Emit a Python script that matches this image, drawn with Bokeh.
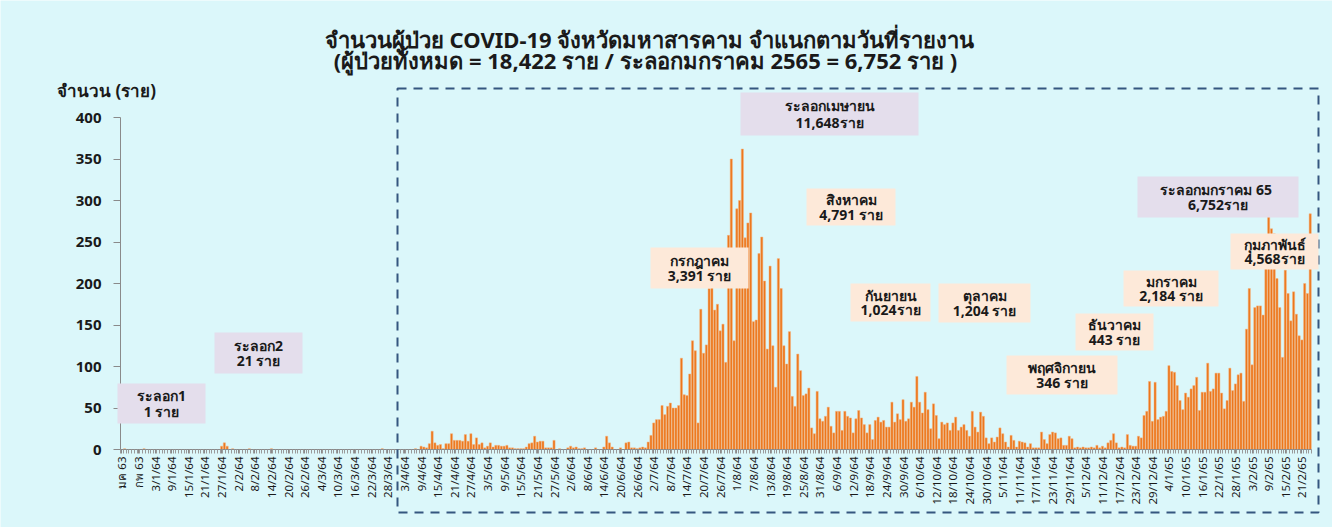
import math
from bokeh.plotting import figure
from bokeh.models import ColumnDataSource, FixedTicker, BoxAnnotation, Label, Range1d
from bokeh.embed import file_html
from bokeh.resources import INLINE

# ---------------- data ----------------
tick_labels = [
    "มค 63", "กพ 63", "3/1/64", "9/1/64", "15/1/64", "21/1/64", "27/1/64", "2/2/64",
    "8/2/64", "14/2/64", "20/2/64", "26/2/64", "4/3/64", "10/3/64", "16/3/64", "22/3/64",
    "28/3/64", "3/4/64", "9/4/64", "15/4/64", "21/4/64", "27/4/64", "3/5/64", "9/5/64",
    "15/5/64", "21/5/64", "27/5/64", "2/6/64", "8/6/64", "14/6/64", "20/6/64", "26/6/64",
    "2/7/64", "8/7/64", "14/7/64", "20/7/64", "26/7/64", "1/8/64", "7/8/64", "13/8/64",
    "19/8/64", "25/8/64", "31/8/64", "6/9/64", "12/9/64", "18/9/64", "24/9/64", "30/9/64",
    "6/10/64", "12/10/64", "18/10/64", "24/10/64", "30/10/64", "5/11/64", "11/11/64",
    "17/11/64", "23/11/64", "29/11/64", "5/12/64", "11/12/64", "17/12/64", "23/12/64",
    "29/12/64", "4/1/65", "10/1/65", "16/1/65", "22/1/65", "28/1/65", "3/2/65", "9/2/65",
    "15/2/65", "21/2/65",
]

wave1_2 = [0, 1, 0, 0, 0, 0, 0, 0, 1, 0,
           0, 0, 0, 0, 0, 0, 0, 0, 0, 0,
           0, 0, 0, 0, 0, 0, 0, 0, 0, 0,
           0, 0, 0, 0, 0, 0, 4, 8, 4, 0,
           1, 0, 0, 0, 0, 0, 1, 0, 0, 0,
           0, 0, 0, 0, 1, 0, 0, 0, 0, 0,
           0, 0, 0, 0, 0, 0, 0, 0, 0, 0,
           0, 0, 0, 0, 0, 0, 0, 0, 0, 0,
           0, 0, 0, 0, 0, 0, 0, 0, 0, 0,
           0, 0, 0, 0, 1, 0, 0, 0, 0, 0]
apr64 = [0, 0, 0, 0, 0, 0, 1, 0, 4, 3, 2, 7, 22, 8, 5, 6, 1, 7, 7, 19,
         11, 11, 11, 10, 18, 10, 19, 6, 14, 6]
may64 = [8, 2, 4, 8, 3, 5, 5, 4, 4, 5, 2, 2, 1, 1, 1, 1, 3, 7, 8, 16,
         9, 10, 10, 2, 2, 2, 11, 0, 1, 0, 0]
jun64 = [2, 4, 2, 3, 1, 1, 2, 0, 0, 0, 2, 0, 0, 3, 16, 8, 3, 0, 0, 2,
         0, 8, 9, 2, 2, 1, 2, 3, 2, 9]
jul64 = [17, 32, 36, 36, 53, 42, 52, 56, 50, 50, 53, 110, 66, 65, 91, 131, 119, 32, 169, 116,
         126, 194, 215, 168, 175, 143, 151, 105, 258, 350, 131]
aug64 = [290, 300, 362, 255, 273, 285, 154, 156, 236, 256, 203, 121, 221, 125, 75, 230, 194, 125, 103, 142,
         64, 52, 115, 95, 65, 67, 74, 26, 19, 70, 37]
sep64 = [34, 40, 51, 28, 20, 46, 46, 23, 46, 40, 38, 20, 37, 47, 38, 30, 20, 30, 12, 35,
         39, 33, 35, 27, 27, 57, 33, 43, 36, 60]
oct64 = [34, 37, 57, 51, 88, 57, 44, 69, 48, 25, 55, 41, 13, 33, 30, 32, 23, 32, 39, 23,
         27, 30, 23, 16, 46, 27, 21, 45, 40, 14, 7]
nov64 = [14, 9, 15, 26, 19, 9, 3, 17, 11, 3, 10, 9, 8, 3, 7, 2, 2, 2, 21, 12,
         7, 18, 21, 20, 13, 14, 5, 5, 16, 13]
dec64 = [2, 3, 2, 3, 2, 2, 3, 2, 5, 2, 4, 2, 8, 11, 19, 8, 2, 3, 2, 18,
         5, 4, 4, 16, 14, 41, 46, 82, 34, 81, 36]
jan65 = [39, 40, 46, 101, 94, 93, 77, 59, 48, 68, 63, 73, 77, 87, 47, 69, 69, 104, 70, 73,
         92, 92, 68, 49, 59, 98, 71, 79, 90, 92, 58]
feb65 = [145, 194, 102, 171, 173, 173, 162, 230, 280, 266, 260, 206, 171, 111, 216, 188, 155, 190, 163, 137,
         132, 200, 188, 284]

cases = wave1_2 + apr64 + may64 + jun64 + jul64 + aug64 + sep64 + oct64 + nov64 + dec64 + jan65 + feb65
n = len(cases)
idx = list(range(n))

notes = [
    ("ระลอก1", "1 ราย", "wave"),
    ("ระลอก2", "21 ราย", "wave"),
    ("ระลอกเมษายน", "11,648ราย", "wave"),
    ("กรกฎาคม", "3,391 ราย", "month"),
    ("สิงหาคม", "4,791 ราย", "month"),
    ("กันยายน", "1,024ราย", "month"),
    ("ตุลาคม", "1,204 ราย", "month"),
    ("พฤศจิกายน", "346 ราย", "month"),
    ("ธันวาคม", "443 ราย", "month"),
    ("มกราคม", "2,184 ราย", "month"),
    ("ระลอกมกราคม  65", "6,752ราย", "wave"),
    ("กุมภาพันธ์", "4,568ราย", "month"),
]
# box placement in page pixels: left, right, top, bottom
note_boxes = [
    (117, 205, 383, 423),
    (214, 302, 332, 373),
    (740, 918, 92, 135),
    (650, 748, 247, 288),
    (806, 895, 188, 225),
    (850, 930, 283, 321),
    (938, 1030, 283, 322),
    (1006, 1117, 355, 394),
    (1075, 1153, 313, 350),
    (1123, 1218, 270, 306),
    (1137, 1298, 176, 217),
    (1230, 1318, 233, 269),
]

# ---------------- layout ----------------
BG = "#DBF7FA"
W, H = 1332, 527
PX, PY = 2.77, 0.83          # pixels per category / per case
X0, Y0 = 120, 449            # page position of the category axis start and of zero


def X(px):
    return (px - X0) / PX - 0.5


def Y(py):
    return (Y0 - py) / PY


FONT = "Noto Sans"

p = figure(width=W, height=H,
           x_range=Range1d(X(0), X(W)), y_range=Range1d(Y(H), Y(0)),
           output_backend="svg", toolbar_location=None,
           min_border=0, min_border_left=0, min_border_right=0,
           min_border_top=0, min_border_bottom=0)
p.title.visible = False
p.background_fill_color = BG
p.border_fill_color = BG
p.outline_line_color = None
p.xgrid.visible = False
p.ygrid.visible = False

src = ColumnDataSource(dict(x=idx, cases=cases))
p.vbar(x="x", top="cases", width=0.78, source=src,
       fill_color="#EC761B", line_color="#F6B27C", line_width=0.5)

# y axis (placed at the left edge of the categories)
p.yaxis.fixed_location = -0.5
p.yaxis.bounds = (0, 400)
p.yaxis.ticker = FixedTicker(ticks=list(range(0, 401, 50)))
p.yaxis.axis_line_color = "#8A8A8A"
p.yaxis.major_tick_line_color = "#8A8A8A"
p.yaxis.major_tick_out = 7
p.yaxis.major_tick_in = 0
p.yaxis.minor_tick_out = 0
p.yaxis.minor_tick_in = 0
p.yaxis.major_label_standoff = 12
p.yaxis.major_label_text_font = FONT
p.yaxis.major_label_text_font_size = "15px"
p.yaxis.major_label_text_font_style = "bold"
p.yaxis.major_label_text_color = "#1a1a1a"

# x axis (at zero)
p.xaxis.fixed_location = 0
p.xaxis.bounds = (-0.5, n - 0.5)
p.xaxis.ticker = FixedTicker(ticks=list(range(0, n, 6)),
                             minor_ticks=[i - 0.5 for i in range(n + 1)])
p.xaxis.major_label_overrides = {i * 6: lab for i, lab in enumerate(tick_labels)}
p.xaxis.major_label_orientation = math.pi / 2
p.xaxis.axis_line_color = "#8A8A8A"
p.xaxis.major_tick_line_color = "#8A8A8A"
p.xaxis.minor_tick_line_color = "#9A9A9A"
p.xaxis.major_tick_out = 4
p.xaxis.major_tick_in = 0
p.xaxis.minor_tick_out = 4
p.xaxis.minor_tick_in = 0
p.xaxis.major_label_standoff = 3
p.xaxis.major_label_text_font = FONT
p.xaxis.major_label_text_font_size = "11.5px"
p.xaxis.major_label_text_color = "#1a1a1a"

# dashed frame around the April-2021 onward period
p.add_layout(BoxAnnotation(left=X(397), right=X(1318), top=Y(88), bottom=Y(512),
                           fill_color=None, fill_alpha=0, line_color="#35567F",
                           line_alpha=1, line_width=2, line_dash="9 7"))

# note boxes
for (l1, l2, kind), (bl, br, bt, bb) in zip(notes, note_boxes):
    fill = "#E4DEEC" if kind == "wave" else "#FDE9D9"
    p.add_layout(BoxAnnotation(left=X(bl), right=X(br), top=Y(bt), bottom=Y(bb),
                               fill_color=fill, fill_alpha=1, line_color=None))
    cx = (bl + br) / 2
    h = bb - bt
    for k, t in enumerate((l1, l2)):
        cy = bt + h * (0.31 if k == 0 else 0.69)
        p.add_layout(Label(x=X(cx), y=Y(cy), text=t, text_align="center",
                           text_baseline="middle", text_font=FONT,
                           text_font_size="14px", text_font_style="bold",
                           text_color="#1a1a1a"))

# titles
p.add_layout(Label(x=X(649), y=Y(38), text="จำนวนผู้ป่วย COVID-19 จังหวัดมหาสารคาม จำแนกตามวันที่รายงาน",
                   text_align="center", text_baseline="middle", text_font=FONT,
                   text_font_size="22px", text_font_style="bold", text_color="#1a1a1a"))
p.add_layout(Label(x=X(645), y=Y(59), text="(ผู้ป่วยทั้งหมด = 18,422 ราย / ระลอกมกราคม 2565 = 6,752 ราย )",
                   text_align="center", text_baseline="middle", text_font=FONT,
                   text_font_size="22px", text_font_style="bold", text_color="#1a1a1a"))
p.add_layout(Label(x=X(106), y=Y(90), text="จำนวน (ราย)",
                   text_align="center", text_baseline="middle", text_font=FONT,
                   text_font_size="17px", text_font_style="bold", text_color="#1a1a1a"))

open("out.html", "w").write(file_html(p, INLINE))
